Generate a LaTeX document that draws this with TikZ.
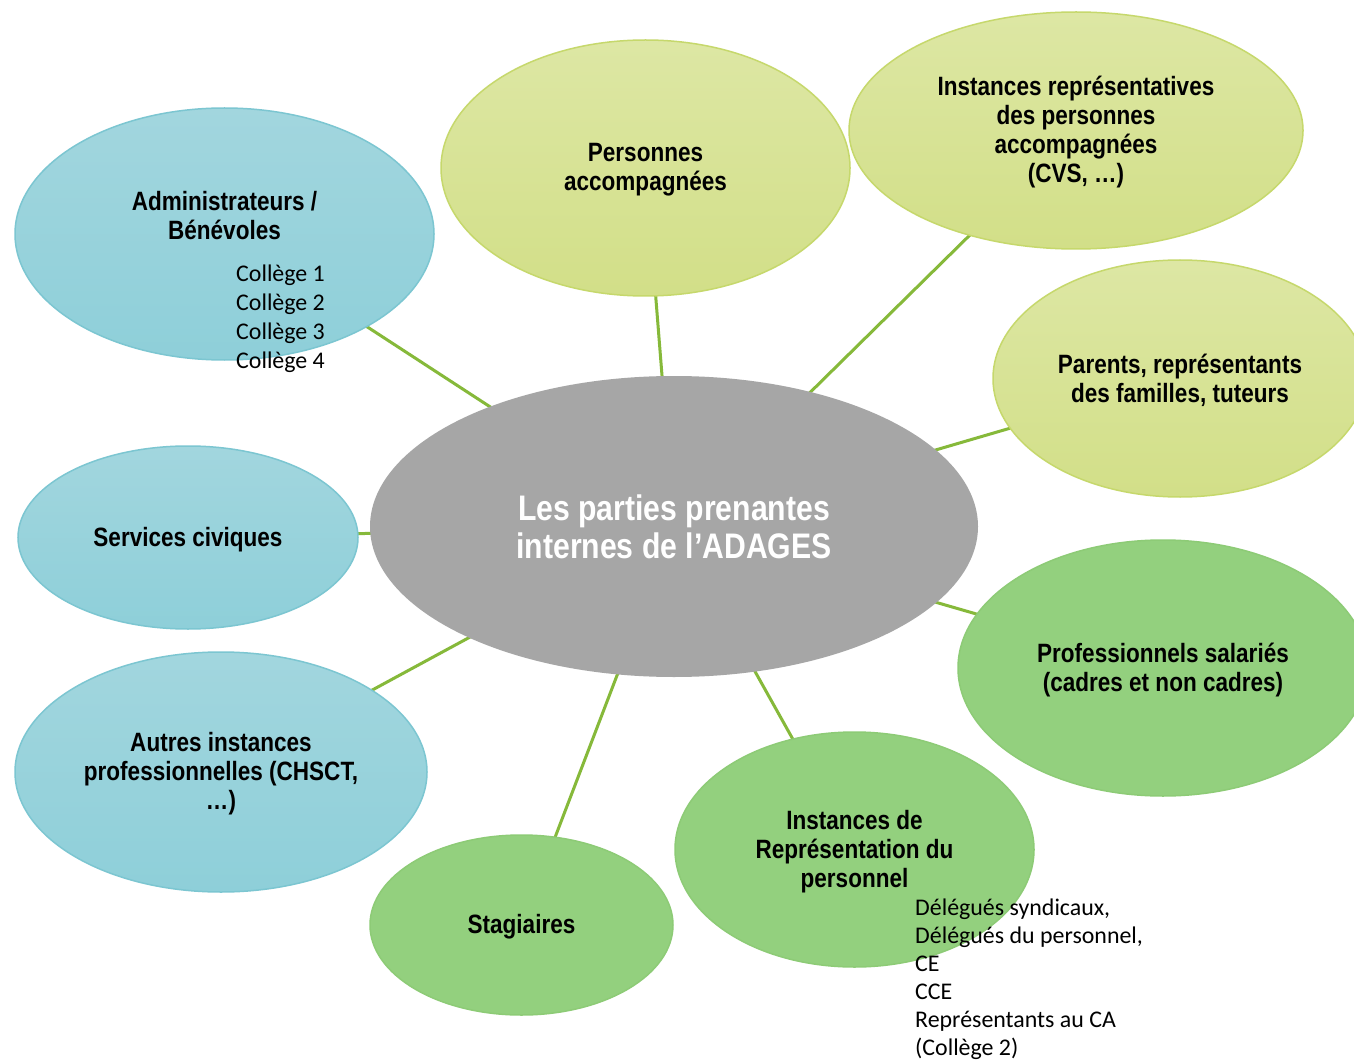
\documentclass[tikz,border=0pt]{standalone}
\usepackage{fontspec}
\setmainfont{Carlito}
\newfontfamily\narrowfont[FakeStretch=0.85]{Liberation Sans}
\usetikzlibrary{shapes.geometric,backgrounds}
\definecolor{blueT}{HTML}{A2D6DE}
\definecolor{blueB}{HTML}{8ECFD9}
\definecolor{blueD}{HTML}{7CC6D1}
\definecolor{ylwT}{HTML}{DDE7A4}
\definecolor{ylwB}{HTML}{D2DF88}
\definecolor{ylwD}{HTML}{C6D86C}
\definecolor{grnF}{HTML}{93D07E}
\definecolor{grnD}{HTML}{8DCB76}
\definecolor{greyF}{HTML}{A6A6A6}
\definecolor{linkC}{HTML}{86B93A}
\begin{document}
\begin{tikzpicture}[x=1pt,y=-1pt,
  bub/.style={ellipse, inner sep=0pt, line width=1.5pt},
  bluebub/.style={bub, draw=blueD, top color=blueT, bottom color=blueB},
  ylwbub/.style={bub, draw=ylwD, top color=ylwT, bottom color=ylwB},
  grnbub/.style={bub, draw=grnD, fill=grnF},
  ctrbub/.style={bub, fill=greyF},
  lbl/.style={inner sep=0pt, align=center, yshift=-2pt, font=\narrowfont\bfseries\fontsize{26.5}{29}\selectfont},
  ctrlbl/.style={inner sep=0pt, align=center, text=white, font=\narrowfont\bfseries\fontsize{35.5}{38}\selectfont},
  smalltxt/.style={inner sep=0pt, align=left, font=\fontsize{23.9}{28.8}\selectfont},
  link/.style={draw=linkC, line width=3pt}
]
\clip (0,0) rectangle (1354,1064);

% bubbles
\node[ctrbub, minimum width=608pt, minimum height=301pt] (ctr) at (674,526.5) {};
\node[bluebub, minimum width=419pt, minimum height=252pt] (adm) at (224.5,234) {};
\node[ylwbub, minimum width=409pt, minimum height=256pt] (pers) at (645.5,168) {};
\node[ylwbub, minimum width=454pt, minimum height=237pt] (irep) at (1076,130.5) {};
\node[ylwbub, minimum width=374pt, minimum height=237pt] (par) at (1180,378.5) {};
\node[grnbub, minimum width=410pt, minimum height=256pt] (prof) at (1163,668) {};
\node[grnbub, minimum width=359pt, minimum height=235pt] (idr) at (854.5,849.5) {};
\node[grnbub, minimum width=303pt, minimum height=180pt] (stag) at (521.5,925) {};
\node[bluebub, minimum width=340pt, minimum height=183pt] (serv) at (188,537.5) {};
\node[bluebub, minimum width=412pt, minimum height=240pt] (autr) at (221,772) {};

% connectors
\begin{pgfonlayer}{background}
\fill[white] (0,0) rectangle (1354,1064);
\draw[link] (ctr.center) -- (adm.center);
\draw[link] (ctr.center) -- (pers.center);
\draw[link] (ctr.center) -- (irep.center);
\draw[link] (ctr.center) -- (par.center);
\draw[link] (ctr.center) -- (prof.center);
\draw[link] (ctr.center) -- (idr.center);
\draw[link] (ctr.center) -- (stag.center);
\draw[link] (ctr.center) -- (serv.center);
\draw[link] (ctr.center) -- (autr.center);
\end{pgfonlayer}

% labels
\node[ctrlbl] (ctr-t) at (ctr.center) {Les parties prenantes\\internes de l’ADAGES};
\node[lbl] (adm-t) at (224.5,213.5) {Administrateurs /\\Bénévoles};
\node[lbl] (pers-t) at (pers.center) {Personnes\\accompagnées};
\node[lbl] (irep-t) at (irep.center) {Instances représentatives\\des personnes\\accompagnées\\(CVS, …)};
\node[lbl] (par-t) at (par.center) {Parents, représentants\\des familles, tuteurs};
\node[lbl] (prof-t) at (prof.center) {Professionnels salariés\\(cadres et non cadres)};
\node[lbl] (idr-t) at (idr.center) {Instances de\\Représentation du\\personnel};
\node[lbl] (stag-t) at (stag.center) {Stagiaires};
\node[lbl] (serv-t) at (serv.center) {Services civiques};
\node[lbl] (autr-t) at (autr.center) {Autres instances\\professionnelles (CHSCT,\\…)};

\node[smalltxt, anchor=north west] (col) at (236,265) {Collège 1\\Collège 2\\Collège 3\\Collège 4};
\node[smalltxt, anchor=north west, font=\fontsize{23.9}{28}\selectfont] (deleg) at (915,899) {Délégués syndicaux,\\Délégués du personnel,\\CE\\CCE\\Représentants au CA\\(Collège 2)};
\end{tikzpicture}
\end{document}
